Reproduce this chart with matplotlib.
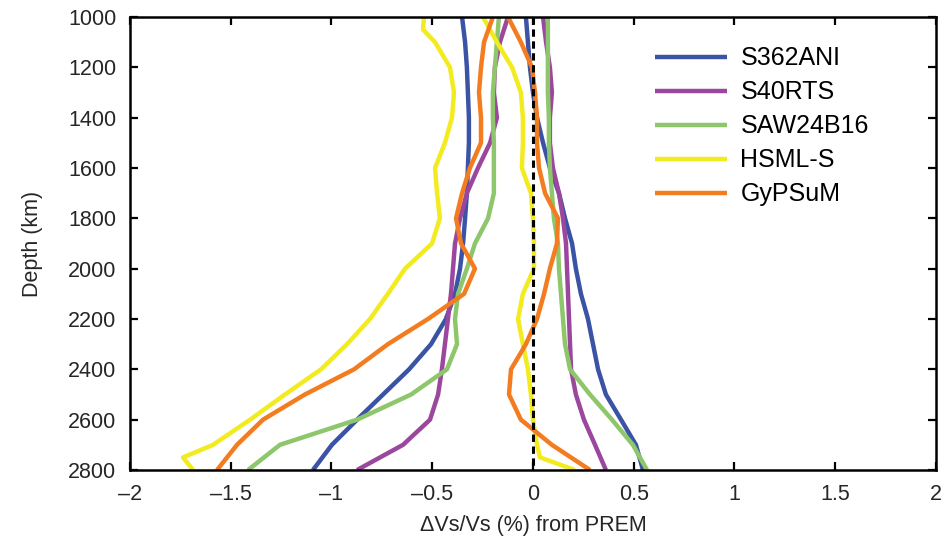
import numpy as np
import matplotlib.pyplot as plt
from matplotlib.ticker import FuncFormatter

plt.rcParams['font.family'] = ['Liberation Sans', 'DejaVu Sans']

# глубины (км)
depth = [1000, 1100, 1200, 1300, 1400, 1500, 1600, 1700, 1800, 1900,
         2000, 2100, 2200, 2300, 2400, 2500, 2600, 2700, 2800]

# S362ANI
s362_slow = [-0.352, -0.337, -0.328, -0.323, -0.318, -0.318, -0.323, -0.328, -0.337, -0.347,
             -0.362, -0.387, -0.432, -0.506, -0.615, -0.744, -0.873, -0.998, -1.092]
s362_fast = [-0.035, -0.025, -0.015, 0.0, 0.02, 0.05, 0.084, 0.129, 0.159, 0.194,
             0.213, 0.238, 0.273, 0.298, 0.323, 0.362, 0.437, 0.511, 0.546]

# S40RTS
s40_slow = [-0.124, -0.164, -0.189, -0.194, -0.179, -0.213, -0.273, -0.328, -0.362, -0.387,
            -0.397, -0.407, -0.422, -0.437, -0.452, -0.471, -0.511, -0.645, -0.873]
s40_fast = [0.050, 0.065, 0.084, 0.094, 0.084, 0.084, 0.099, 0.129, 0.149, 0.164,
            0.169, 0.174, 0.179, 0.184, 0.189, 0.213, 0.253, 0.308, 0.362]

# SAW24B16
saw_slow = [-0.169, -0.179, -0.189, -0.199, -0.199, -0.194, -0.194, -0.194, -0.223, -0.288,
            -0.328, -0.372, -0.387, -0.377, -0.427, -0.605, -0.873, -1.256, -1.414]
saw_fast = [0.074, 0.074, 0.074, 0.074, 0.079, 0.079, 0.084, 0.094, 0.104, 0.124,
            0.129, 0.139, 0.149, 0.159, 0.184, 0.283, 0.392, 0.496, 0.566]

# HSML-S (есть лишние точки 1050 и 2750)
depth_hsml = [1000, 1050, 1100, 1200, 1300, 1400, 1500, 1600, 1700, 1800, 1900,
              2000, 2100, 2200, 2300, 2400, 2500, 2600, 2700, 2750, 2800]
hsml_slow = [-0.541, -0.546, -0.486, -0.412, -0.392, -0.402, -0.437, -0.486, -0.476, -0.462, -0.501,
             -0.635, -0.720, -0.809, -0.923, -1.052, -1.231, -1.404, -1.588, -1.737, -1.687]
hsml_fast = [-0.248, -0.213, -0.179, -0.104, -0.060, -0.050, -0.050, -0.055, -0.010, 0.0, 0.005,
             0.005, -0.050, -0.074, -0.050, -0.025, -0.010, 0.0, 0.020, 0.035, 0.208]

# GyPSuM
gyp_slow = [-0.199, -0.243, -0.258, -0.268, -0.258, -0.258, -0.313, -0.352, -0.382, -0.357,
            -0.288, -0.342, -0.521, -0.720, -0.888, -1.132, -1.340, -1.469, -1.568]
gyp_fast = [-0.124, -0.060, -0.005, 0.010, 0.020, 0.020, 0.030, 0.060, 0.124, 0.119,
            0.084, 0.055, 0.020, -0.035, -0.109, -0.119, -0.060, 0.094, 0.283]

models = ['S362ANI', 'S40RTS', 'SAW24B16', 'HSML-S', 'GyPSuM']
colors = ['#3a53a4', '#9c479e', '#8dc66b', '#f2eb1f', '#f47c20']

fig = plt.figure(figsize=(9.47, 5.38), dpi=100)
ax = fig.add_axes([0.1373, 0.1264, 0.851, 0.842])

curves = [(depth, s362_slow, s362_fast),
          (depth, s40_slow, s40_fast),
          (depth, saw_slow, saw_fast),
          (depth_hsml, hsml_slow, hsml_fast),
          (depth, gyp_slow, gyp_fast)]

for (d, slow, fast), name, c in zip(curves, models, colors):
    ax.plot(slow, d, '-', color=c, lw=3.2, label=name, solid_capstyle='butt', solid_joinstyle='round')
    ax.plot(fast, d, '-', color=c, lw=3.2, solid_capstyle='butt', solid_joinstyle='round')

ax.plot([0, 0], [1000, 2800], '--', color='k', lw=2.2, dashes=(2.4, 1.5), zorder=5)

ax.set_xlim(-2, 2)
ax.set_ylim(2800, 1000)
ax.set_xticks(np.arange(-2, 2.01, 0.5))
ax.set_yticks(np.arange(1000, 2801, 200))
ax.xaxis.set_major_formatter(FuncFormatter(lambda v, p: ('%g' % v).replace('-', '\u2013')))

ax.tick_params(direction='in', top=True, right=True, length=6, width=1.6,
               labelsize=15.5, labelcolor='#262626', pad=10)
for s in ax.spines.values():
    s.set_linewidth(1.8)

ax.set_xlabel('\u0394Vs/Vs (%) from PREM', fontsize=15.5, color='#262626', labelpad=7)
ax.set_ylabel('Depth (km)', fontsize=15.5, color='#262626', labelpad=18)

ax.legend(loc='upper left', bbox_to_anchor=(0.6235, 0.985), frameon=False, fontsize=18,
          handlelength=2.9, handletextpad=0.52, labelspacing=0.4)

fig.savefig('out.png', dpi=100)
